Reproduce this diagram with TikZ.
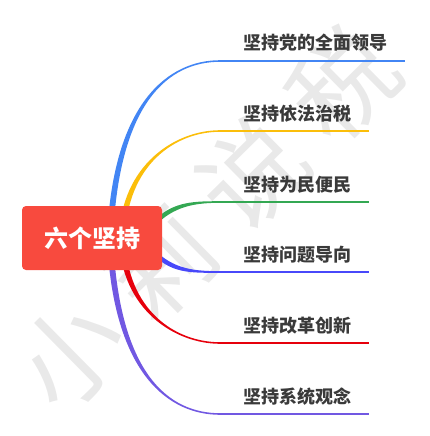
\documentclass[tikz,border=0pt]{standalone}
\usepackage{fontspec}
\newfontfamily\cjk{Noto Sans CJK SC}
\usetikzlibrary{calc}
\definecolor{rootred}{RGB}{248,74,62}
\definecolor{leaftext}{RGB}{58,58,58}
\definecolor{wmgray}{RGB}{233,233,233}
\definecolor{cblue}{RGB}{66,133,244}
\definecolor{cyellow}{RGB}{251,190,10}
\definecolor{cgreen}{RGB}{52,168,83}
\definecolor{cindigo}{RGB}{72,72,250}
\definecolor{cred}{RGB}{230,0,12}
\definecolor{cpurple}{RGB}{113,88,226}
% tapered branch: colour, start, control 1, control 2, end, half width at start, half width at end
\newcommand{\branch}[7]{%
  \fill[#1] ($(#2)+(#6)$) .. controls ($(#3)+(#6)$) and ($(#4)+(#7)$) .. ($(#5)+(#7)$)
    -- ($(#5)-(#7)$) .. controls ($(#4)-(#7)$) and ($(#3)-(#6)$) .. ($(#2)-(#6)$) -- cycle;}

\begin{document}
\begin{tikzpicture}[x=1pt,y=-1pt,
  root/.style={rectangle,rounded corners=4pt,fill=rootred,text=white,
    minimum width=140pt,minimum height=64pt,font=\cjk\bfseries\fontsize{24}{24}\selectfont},
  leaf/.style={inner sep=0pt,anchor=base west,text=leaftext,
    font=\cjk\bfseries\fontsize{18}{18}\selectfont},
  leafline/.style={line width=1.6pt},
  wmark/.style={rotate=44.6,text=wmgray,inner sep=0pt,font=\cjk\fontsize{104}{104}\selectfont}]
  \useasboundingbox (0,0) rectangle (430,436);
  % watermark
  \foreach \ch [count=\i from 0] in {小,莉,说,税}
    \node[wmark] (wm\i) at ($(70,354)+\i*(91,-90)$) {\ch};
  % branch ends
  \coordinate (s1) at (110,238); \coordinate (j1) at (220,61);
  \coordinate (s2) at (122,238); \coordinate (j2) at (220,131);
  \coordinate (s3) at (150,228); \coordinate (j3) at (220,202);
  \coordinate (s4) at (150,248); \coordinate (j4) at (220,272);
  \coordinate (s5) at (122,238); \coordinate (j5) at (220,343);
  \coordinate (s6) at (110,238); \coordinate (j6) at (220,414);
  \branch{cblue}{s1}{116,100}{170,61}{j1}{-3,0}{0,-0.8}
  \branch{cyellow}{s2}{124,165}{175,131}{j2}{-3,0}{0,-0.8}
  \branch{cgreen}{s3}{170,205}{190,202}{j3}{0,-3}{0,-0.8}
  \branch{cindigo}{s4}{170,271}{190,272}{j4}{0,3}{0,0.8}
  \branch{cred}{s5}{124,310}{175,343}{j5}{-3,0}{0,0.8}
  \branch{cpurple}{s6}{116,376}{170,414}{j6}{-3,0}{0,0.8}
  % centre
  \node[root] (root) at (92,238) {六个坚持};
  % leaves
  \node[leaf] (l1) at ($(j1)+(23,-11)$) {坚持党的全面领导};
  \node[leaf] (l2) at ($(j2)+(23,-11)$) {坚持依法治税};
  \node[leaf] (l3) at ($(j3)+(23,-11)$) {坚持为民便民};
  \node[leaf] (l4) at ($(j4)+(23,-11)$) {坚持问题导向};
  \node[leaf] (l5) at ($(j5)+(23,-11)$) {坚持改革创新};
  \node[leaf] (l6) at ($(j6)+(23,-11)$) {坚持系统观念};
  \draw[cblue,leafline] (j1) -- ($(l1.east |- j1)+(18,0)$);
  \draw[cyellow,leafline] (j2) -- ($(l2.east |- j2)+(18,0)$);
  \draw[cgreen,leafline] (j3) -- ($(l3.east |- j3)+(18,0)$);
  \draw[cindigo,leafline] (j4) -- ($(l4.east |- j4)+(18,0)$);
  \draw[cred,leafline] (j5) -- ($(l5.east |- j5)+(18,0)$);
  \draw[cpurple,leafline] (j6) -- ($(l6.east |- j6)+(18,0)$);
\end{tikzpicture}
\end{document}
